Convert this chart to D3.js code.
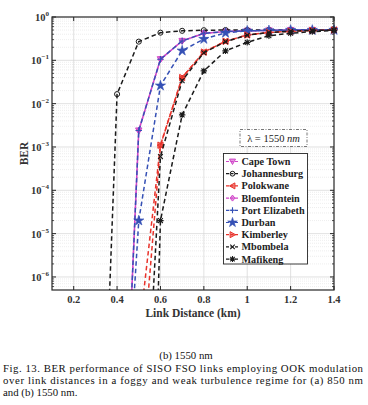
<!DOCTYPE html>
<html><head><meta charset="utf-8">
<script src="https://cdn.jsdelivr.net/npm/d3@7"></script>
<style>body{margin:0;background:#fff}svg{display:block}</style>
</head><body>
<svg id="c" width="368" height="405"></svg>
<script>
// ---- data ----
const distances = [0.3, 0.4, 0.5, 0.6, 0.7, 0.8, 0.9, 1.0, 1.1, 1.2, 1.3, 1.4];
const capeTown      = [null, 8e-15, 2.4e-3, 0.106, 0.28, 0.42, 0.46, 0.48, 0.49, 0.5, 0.5, 0.5];
const johannesburg  = [1e-15, 1.66e-2, 0.27, 0.435, 0.48, 0.495, 0.5, 0.5, 0.5, 0.5, 0.5, 0.5];
const polokwane     = [null, null, 4.5e-8, 1.1e-3, 0.04, 0.155, 0.275, 0.385, 0.44, 0.47, 0.49, 0.5];
const bloemfontein  = [null, 8e-15, 2.4e-3, 0.106, 0.28, 0.42, 0.46, 0.48, 0.49, 0.5, 0.5, 0.5];
const portElizabeth = [null, 8e-15, 2.4e-3, 0.106, 0.28, 0.42, 0.46, 0.48, 0.49, 0.5, 0.5, 0.5];
const durban        = [null, 2e-13, 2e-5, 2.6e-2, 0.167, 0.31, 0.43, 0.48, 0.49, 0.5, 0.5, 0.5];
const kimberley     = [null, null, 9.3e-10, 1.1e-3, 0.04, 0.155, 0.275, 0.385, 0.44, 0.47, 0.49, 0.5];
const mbombela      = [null, null, 2e-13, 6e-4, 0.034, 0.15, 0.27, 0.38, 0.44, 0.47, 0.49, 0.5];
const mafikeng      = [null, null, 2e-21, 2e-5, 5.5e-3, 0.057, 0.165, 0.26, 0.37, 0.42, 0.46, 0.49];

const cities  = ["Cape Town", "Johannesburg", "Polokwane", "Bloemfontein", "Port Elizabeth", "Durban", "Kimberley", "Mbombela", "Mafikeng"];
const values  = [capeTown, johannesburg, polokwane, bloemfontein, portElizabeth, durban, kimberley, mbombela, mafikeng];
const colors  = ["#d045c8", "#1a1a1a", "#e8322a", "#d045c8", "#3550b5", "#3550b5", "#e8322a", "#1a1a1a", "#1a1a1a"];
const markers = ["v", "o", "<", "d", "+", "p", ">", "x", "*"];

const xTicks = [0.2, 0.4, 0.6, 0.8, 1, 1.2, 1.4];
const xTickLabels = ["0.2", "0.4", "0.6", "0.8", "1", "1.2", "1.4"];
const yTickExps = [0, -1, -2, -3, -4, -5, -6];

const xLabel = "Link Distance (km)";
const yLabel = "BER";
const subCaption = "(b) 1550 nm";
const captionLines = [
  "Fig. 13. BER performance of SISO FSO links employing OOK modulation",
  "over link distances in a foggy and weak turbulence regime for (a) 850 nm",
  "and (b) 1550 nm."
];

// ---- layout ----
const svg = d3.select("#c");
const L = 52, R = 334, T = 17, B = 290;
const serif = "'Liberation Serif','Times New Roman',Times,serif";
const x = d3.scaleLinear().domain([0.1, 1.4]).range([L, R]);
const y = d3.scaleLog().domain([5e-7, 1]).range([B, T]);

svg.append("rect").attr("x", L).attr("y", T).attr("width", R - L).attr("height", B - T).attr("fill", "#fff");

// minor horizontal grid
const minorVals = [];
for (let d = -7; d <= -1; d++) for (let k = 2; k <= 9; k++) {
  const v = k * Math.pow(10, d);
  if (v > 5e-7 && v < 1) minorVals.push(v);
}
svg.append("g").selectAll("line").data(minorVals).join("line")
  .attr("x1", L).attr("x2", R).attr("y1", d => y(d)).attr("y2", d => y(d))
  .attr("stroke", "#e2e2e2").attr("stroke-width", 0.6).attr("stroke-dasharray", "1,1");
// major grid
svg.append("g").selectAll("line").data(yTickExps.slice(1)).join("line")
  .attr("x1", L).attr("x2", R).attr("y1", d => y(Math.pow(10, d))).attr("y2", d => y(Math.pow(10, d)))
  .attr("stroke", "#d4d4d4").attr("stroke-width", 0.7);
svg.append("g").selectAll("line").data(xTicks.slice(0, -1)).join("line")
  .attr("y1", T).attr("y2", B).attr("x1", d => x(d)).attr("x2", d => x(d))
  .attr("stroke", "#d4d4d4").attr("stroke-width", 0.7);

// ticks (inward, all sides)
const tk = svg.append("g").attr("stroke", "#262626").attr("stroke-width", 1);
xTicks.forEach(t => {
  tk.append("line").attr("x1", x(t)).attr("x2", x(t)).attr("y1", B).attr("y2", B - 4);
  tk.append("line").attr("x1", x(t)).attr("x2", x(t)).attr("y1", T).attr("y2", T + 4);
});
yTickExps.forEach(e => {
  const yy = y(Math.pow(10, e));
  tk.append("line").attr("x1", L).attr("x2", L + 4).attr("y1", yy).attr("y2", yy);
  tk.append("line").attr("x1", R).attr("x2", R - 4).attr("y1", yy).attr("y2", yy);
});
minorVals.forEach(v => {
  tk.append("line").attr("x1", L).attr("x2", L + 2).attr("y1", y(v)).attr("y2", y(v)).attr("stroke-width", 0.8);
  tk.append("line").attr("x1", R).attr("x2", R - 2).attr("y1", y(v)).attr("y2", y(v)).attr("stroke-width", 0.8);
});

// clip
svg.append("clipPath").attr("id", "clip").append("rect")
  .attr("x", L).attr("y", T - 4).attr("width", R - L + 4).attr("height", B - T + 4);

// marker drawing
function marker(g, type, cx, cy, col, s) {
  s = s || 3.2;
  if (type === "o") {
    g.append("circle").attr("cx", cx).attr("cy", cy).attr("r", s * 0.8).attr("fill", "none").attr("stroke", col).attr("stroke-width", 1);
  } else if (type === "v" || type === "<" || type === ">") {
    const pts = type === "v" ? [[-s, -s * 0.8], [s, -s * 0.8], [0, s]] :
                type === "<" ? [[s * 0.8, -s], [s * 0.8, s], [-s, 0]] :
                               [[-s * 0.8, -s], [-s * 0.8, s], [s, 0]];
    g.append("path").attr("d", "M" + pts.map(p => (cx + p[0]) + "," + (cy + p[1])).join("L") + "Z")
      .attr("fill", col).attr("fill-opacity", 0.55).attr("stroke", col).attr("stroke-width", 1);
  } else if (type === "d") {
    g.append("path").attr("d", `M${cx},${cy - s}L${cx + s * 0.8},${cy}L${cx},${cy + s}L${cx - s * 0.8},${cy}Z`)
      .attr("fill", col).attr("fill-opacity", 0.55).attr("stroke", col).attr("stroke-width", 1);
  } else if (type === "+") {
    g.append("path").attr("d", `M${cx - s},${cy}H${cx + s}M${cx},${cy - s}V${cy + s}`).attr("stroke", col).attr("stroke-width", 1.1);
  } else if (type === "x") {
    const a = s * 0.75;
    g.append("path").attr("d", `M${cx - a},${cy - a}L${cx + a},${cy + a}M${cx - a},${cy + a}L${cx + a},${cy - a}`).attr("stroke", col).attr("stroke-width", 1.1);
  } else if (type === "*") {
    const a = s * 0.75;
    g.append("path").attr("d", `M${cx - s},${cy}H${cx + s}M${cx},${cy - s}V${cy + s}M${cx - a},${cy - a}L${cx + a},${cy + a}M${cx - a},${cy + a}L${cx + a},${cy - a}`).attr("stroke", col).attr("stroke-width", 1.1);
  } else if (type === "p") {
    const sym = d3.symbol().type(d3.symbolStar).size(s * s * 3.2)();
    g.append("path").attr("d", sym).attr("transform", `translate(${cx},${cy})`)
      .attr("fill", col).attr("stroke", col).attr("stroke-width", 0.6);
  }
}

// series
const plotG = svg.append("g").attr("clip-path", "url(#clip)");
const line = d3.line().defined(d => d.v != null).x(d => x(d.d)).y(d => y(d.v));
cities.forEach((c, i) => {
  const pts = distances.map((d, j) => ({ d: d, v: values[i][j] }));
  plotG.append("path").datum(pts).attr("d", line)
    .attr("fill", "none").attr("stroke", colors[i]).attr("stroke-width", 1.5)
    .attr("stroke-dasharray", "4.5,3").attr("stroke-dashoffset", i * 1.1);
  const mg = plotG.append("g");
  pts.filter(p => p.v != null && p.v >= 5e-7).forEach(p => marker(mg, markers[i], x(p.d), y(p.v), colors[i]));
});

// frame
svg.append("rect").attr("x", L).attr("y", T).attr("width", R - L).attr("height", B - T)
  .attr("fill", "none").attr("stroke", "#262626").attr("stroke-width", 1.2);

// tick labels
svg.append("g").selectAll("text").data(xTicks).join("text")
  .attr("x", d => x(d)).attr("y", 303).attr("text-anchor", "middle")
  .attr("font-family", serif).attr("font-weight", "bold").attr("font-size", 10.5).attr("fill", "#333")
  .text((d, i) => xTickLabels[i]);
yTickExps.forEach(e => {
  const t = svg.append("text").attr("x", 49).attr("y", y(Math.pow(10, e)) + 4).attr("text-anchor", "end")
    .attr("font-family", serif).attr("font-weight", "bold").attr("font-size", 10.5).attr("fill", "#333");
  t.append("tspan").text("10");
  t.append("tspan").attr("dy", -5).attr("font-size", 7).text(String(e).replace("-", "\u2212"));
});

// axis labels
svg.append("text").attr("x", (L + R) / 2).attr("y", 317).attr("text-anchor", "middle")
  .attr("font-family", serif).attr("font-weight", "bold").attr("font-size", 11.5).attr("fill", "#333").text(xLabel);
svg.append("text").attr("transform", `translate(28,${(T + B) / 2}) rotate(-90)`).attr("text-anchor", "middle")
  .attr("font-family", serif).attr("font-weight", "bold").attr("font-size", 11.5).attr("fill", "#333").text(yLabel);

// lambda annotation
svg.append("rect").attr("x", 240).attr("y", 129.5).attr("width", 67).attr("height", 17)
  .attr("fill", "#fff").attr("stroke", "#555").attr("stroke-width", 0.8).attr("stroke-dasharray", "3,1.5,1,1.5");
const lt = svg.append("text").attr("x", 273.5).attr("y", 142).attr("text-anchor", "middle")
  .attr("font-family", serif).attr("font-size", 10.5).attr("fill", "#222");
lt.append("tspan").text("\u03bb = 1550 ");
lt.append("tspan").attr("font-style", "italic").text("nm");

// legend
const lg = svg.append("g");
lg.append("rect").attr("x", 223.5).attr("y", 153.5).attr("width", 84).attr("height", 110.5)
  .attr("fill", "#fff").attr("stroke", "#262626").attr("stroke-width", 0.9);
cities.forEach((c, i) => {
  const yy = 161.5 + i * 12.2;
  lg.append("line").attr("x1", 226).attr("x2", 239).attr("y1", yy).attr("y2", yy)
    .attr("stroke", colors[i]).attr("stroke-width", 1.2).attr("stroke-dasharray", "3,1.5");
  marker(lg, markers[i], 232.5, yy, colors[i], 3);
  lg.append("text").attr("x", 241.5).attr("y", yy + 3.5)
    .attr("font-family", serif).attr("font-weight", "bold").attr("font-size", 10.2).attr("fill", "#222").text(c);
});

// captions
svg.append("text").attr("x", 186).attr("y", 359).attr("text-anchor", "middle")
  .attr("font-family", serif).attr("font-size", 10.8).attr("fill", "#111").text(subCaption);
captionLines.forEach((s, i) => {
  const t = svg.append("text").attr("x", 3).attr("y", 371.5 + i * 12)
    .attr("font-family", serif).attr("font-size", 10.8).attr("fill", "#111").text(s);
  if (i < 2) t.attr("textLength", 360).attr("lengthAdjust", "spacing");
});
</script>
</body></html>
